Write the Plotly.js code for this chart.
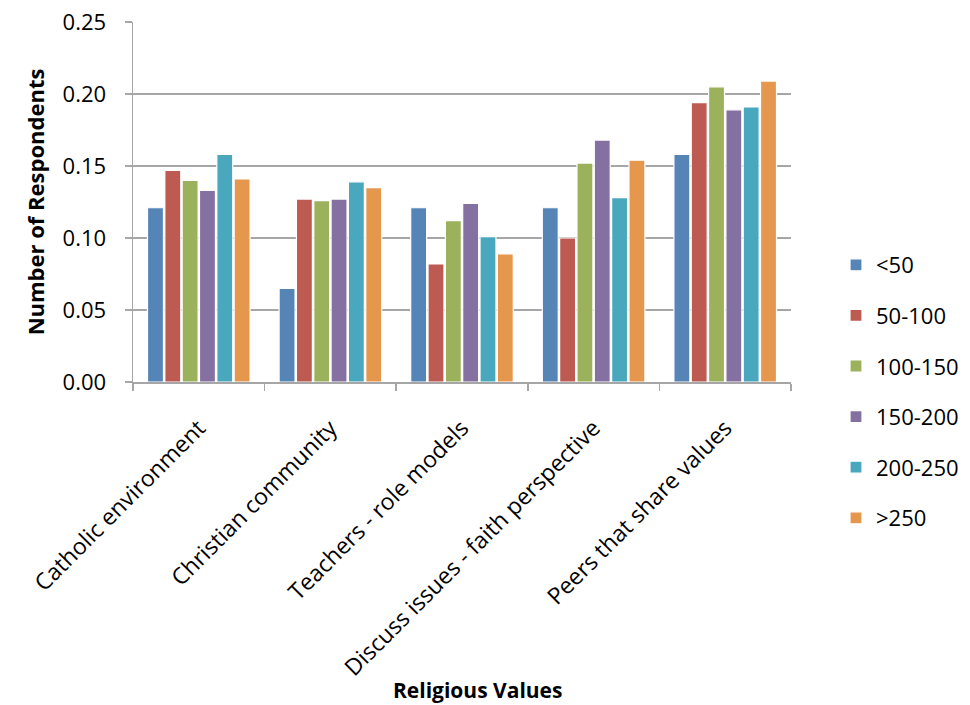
<!DOCTYPE html>
<html>
<head>
<meta charset="utf-8">
<script src="https://cdn.plot.ly/plotly-3.0.1.min.js"></script>
<style>
  html, body { margin: 0; padding: 0; background: #ffffff; }
  #chart { width: 970px; height: 705px; }
</style>
</head>
<body>
<div id="chart"></div>
<script>
// Religious values rated by school size groups
const categories = [
  'Catholic environment',
  'Christian community',
  'Teachers - role models',
  'Discuss issues - faith perspective',
  'Peers that share values'
];

const seriesNames = ['<50', '50-100', '100-150', '150-200', '200-250', '>250'];

const under50   = [0.121, 0.065, 0.121, 0.121, 0.158];
const s50to100  = [0.147, 0.127, 0.082, 0.100, 0.194];
const s100to150 = [0.140, 0.126, 0.112, 0.152, 0.205];
const s150to200 = [0.133, 0.127, 0.124, 0.168, 0.189];
const s200to250 = [0.158, 0.139, 0.101, 0.128, 0.191];
const over250   = [0.141, 0.135, 0.089, 0.154, 0.209];

const seriesValues = [under50, s50to100, s100to150, s150to200, s200to250, over250];
const seriesColors = ['#5584b7', '#bd5a52', '#9bb15b', '#8470a1', '#4aa8be', '#e6974e'];

const yTickValues = [0, 0.05, 0.10, 0.15, 0.20, 0.25];
const yTickLabels = ['0.00', '0.05', '0.10', '0.15', '0.20', '0.25'];

const fontFamily = '"Open Sans", "Liberation Sans", sans-serif';

const traces = seriesNames.map((name, i) => ({
  type: 'bar',
  name: name,
  x: categories,
  y: seriesValues[i],
  legendgroup: 'g' + i,
  marker: {
    color: seriesColors[i],
    line: { color: '#ffffff', width: 1.2 }
  },
  hoverinfo: 'x+y+name'
}));

const layout = {
  width: 970,
  height: 705,
  paper_bgcolor: '#ffffff',
  plot_bgcolor: '#ffffff',
  margin: { l: 133, r: 179, t: 22, b: 323 },
  barmode: 'group',
  bargap: 0.21,
  bargroupgap: 0.08,
  font: { family: fontFamily, color: '#000000' },
  xaxis: {
    type: 'category',
    tickson: 'boundaries',
    ticks: 'outside',
    ticklen: 7,
    tickwidth: 1.5,
    tickcolor: '#a6a6a6',
    showline: true,
    linecolor: '#a6a6a6',
    linewidth: 1.5,
    showgrid: false,
    tickangle: -45,
    ticklabelstandoff: 22,
    tickfont: { family: fontFamily, size: 23, color: '#000000' },
    automargin: false
  },
  yaxis: {
    range: [0, 0.25],
    tickvals: yTickValues,
    ticktext: yTickLabels,
    ticks: 'outside',
    ticklen: 7,
    tickwidth: 1.5,
    tickcolor: '#a6a6a6',
    showline: true,
    linecolor: '#a6a6a6',
    linewidth: 1.5,
    showgrid: true,
    gridcolor: '#a6a6a6',
    gridwidth: 1.5,
    zeroline: false,
    ticklabelstandoff: 14,
    tickfont: { family: fontFamily, size: 22, color: '#000000' },
    title: {
      text: 'Number of Respondents',
      font: { family: fontFamily, size: 22, color: '#000000', weight: 'bold' },
      standoff: 12
    },
    automargin: false
  },
  legend: {
    xref: 'container',
    yref: 'container',
    x: 836 / 970,
    xanchor: 'left',
    y: 1 - 244 / 705,
    yanchor: 'top',
    tracegroupgap: 19,
    font: { family: fontFamily, size: 22, color: '#000000' },
    bgcolor: 'rgba(0,0,0,0)'
  },
  annotations: [{
    text: '<b>Religious Values</b>',
    xref: 'paper',
    yref: 'paper',
    x: (477 - 133) / 658,
    y: -(690 - 382) / 360,
    xanchor: 'center',
    yanchor: 'middle',
    showarrow: false,
    font: { family: fontFamily, size: 21, color: '#000000' }
  }],
  showlegend: true
};

Plotly.newPlot('chart', traces, layout, { displayModeBar: false, staticPlot: true });
</script>
</body>
</html>
